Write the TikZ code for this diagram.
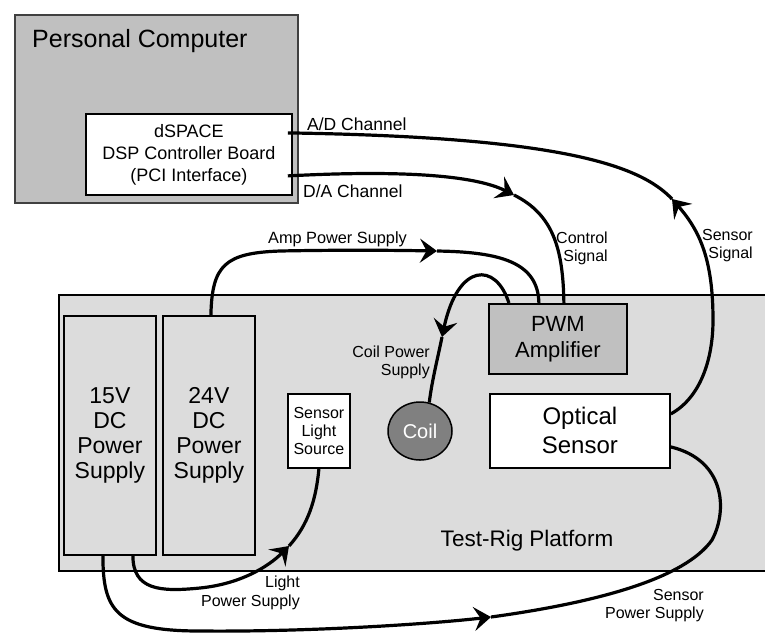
\documentclass[tikz,border=0pt]{standalone}
\usepackage{fontspec}
\setmainfont{Liberation Sans}
\usetikzlibrary{arrows.meta,shapes.geometric,calc}
\newcommand\myfs[2]{\fontsize{#1pt}{#2pt}\selectfont}
\definecolor{pcgray}{HTML}{C0C0C0}
\definecolor{riggray}{HTML}{DCDCDC}
\definecolor{coilgray}{HTML}{808080}
\definecolor{pcedge}{HTML}{404040}
\begin{document}
\begin{tikzpicture}[x=1pt,y=-1pt,
  box/.style={draw=black, line width=1.8pt, inner sep=0pt, anchor=north west, align=center},
  lbl/.style={inner sep=0pt, font=\myfs{16}{19}},
  conn/.style={line width=3.2pt, black},
  arr/.style={conn, -{Stealth[length=17pt 0 0,width=24pt 0 0,inset=6.5pt 0 0]}}]
\useasboundingbox (0,0) rectangle (765,633);
\fill[white] (0,0) rectangle (765,633);
% Personal computer
\node[box, fill=pcgray, draw=pcedge, minimum width=283pt, minimum height=188pt] (pc) at (14,14) {};
\node[lbl, anchor=base west, font=\myfs{25}{30}] (pct) at (32,47) {Personal Computer};
\node[box, fill=white, minimum width=206pt, minimum height=81pt, font=\myfs{18}{22}] (dsp) at (85,113) {dSPACE\\DSP Controller Board\\(PCI Interface)};
% Test rig platform
\node[box, fill=riggray, line width=1.5pt, minimum width=712pt, minimum height=276pt] (rigp) at (58,294) {};
\node[lbl, anchor=base, font=\myfs{22.5}{26}] (rigt) at (527,546) {Test-Rig Platform};
\node[box, fill=riggray, minimum width=92pt, minimum height=239pt, font=\myfs{23}{25}] (ps15) at (63,315) {15V\\DC\\Power\\Supply};
\node[box, fill=riggray, minimum width=92pt, minimum height=239pt, font=\myfs{23}{25}] (ps24) at (162,315) {24V\\DC\\Power\\Supply};
\node[box, fill=white, minimum width=62pt, minimum height=74pt, font=\myfs{16}{18}] (sls) at (287,393) {Sensor\\Light\\Source};
\node[draw, ellipse, fill=coilgray, line width=1.5pt, minimum width=64pt, minimum height=58pt, inner sep=0pt, text=white, font=\myfs{20}{24}] (coil) at (420,431) {Coil};
\node[box, fill=pcgray, minimum width=138pt, minimum height=70pt, font=\myfs{22}{26}] (pwm) at (488,303) {PWM\\Amplifier};
\node[box, fill=white, minimum width=180pt, minimum height=74pt, font=\myfs{24}{29}] (opt) at (489,393) {Optical\\Sensor};
% labels
\node[lbl, anchor=base west, font=\myfs{17.5}{20}] (adl) at (307,130) {A/D Channel};
\node[lbl, anchor=base west, font=\myfs{17.5}{20}] (dal) at (303,197) {D/A Channel};
\node[lbl, anchor=base west, font=\myfs{16.3}{19}] (ampl) at (268,243) {Amp Power Supply};
\node[lbl, anchor=base east] (ctl1) at (608,243) {Control};
\node[lbl, anchor=base east] (ctl2) at (608,261) {Signal};
\node[lbl, anchor=base east] (ss1) at (753,240) {Sensor};
\node[lbl, anchor=base east] (ss2) at (753,258) {Signal};
\node[lbl, anchor=base east] (cp1) at (430,357) {Coil Power};
\node[lbl, anchor=base east] (cp2) at (430,375) {Supply};
\node[lbl, anchor=base east] (lp1) at (300,587) {Light};
\node[lbl, anchor=base east] (lp2) at (300,606) {Power Supply};
\node[lbl, anchor=base east] (sp1) at (704,600) {Sensor};
\node[lbl, anchor=base east] (sp2) at (704,618) {Power Supply};
% arrow points
\coordinate (daA) at (514,195);
\coordinate (adA) at (672,199);
\coordinate (ampA) at (437,251);
\coordinate (coilA) at (442,337);
\coordinate (lightA) at (289,546);
\coordinate (spA) at (491,617);
% D/A -> control signal
\draw[arr] ([xshift=-5pt,yshift=-21.5pt]dsp.east) .. controls (400,170) and (474,175) .. (daA);
\draw[conn] (daA) .. controls (554,215) and (563,250) .. ([xshift=6pt]pwm.north);
% sensor signal -> A/D
\draw[arr] ([yshift=17pt]opt.east) .. controls (700,398) and (713,360) .. (713,320) .. controls (713,260) and (700,231) .. (adA);
\draw[conn] (adA) .. controls (640,165) and (560,137) .. ([xshift=-5pt,yshift=21.5pt]dsp.east);
% amp power supply
\draw[arr] ([xshift=2pt]ps24.north) .. controls (212,265) and (225,253) .. (280,251) .. controls (330,250) and (380,250) .. (ampA);
\draw[conn] (ampA) .. controls (500,252) and (538,262) .. ([xshift=-19pt]pwm.north);
% coil power supply
\draw[arr] ([xshift=-49pt]pwm.north) .. controls (496,262) and (458,262) .. (coilA);
\draw[conn] (coilA) .. controls (438,357) and (432,380) .. (coil.72);
% light power supply
\draw[arr] ([xshift=23pt]ps15.south) .. controls (133,590) and (160,592) .. (200,588) .. controls (240,584) and (268,567) .. (lightA);
\draw[conn] (lightA) .. controls (308,525) and (316,500) .. (sls.south);
% sensor power supply
\draw[arr] ([xshift=-7pt]ps15.south) .. controls (103,610) and (115,631) .. (200,631) .. controls (300,632) and (420,625) .. (spA);
\draw[conn] (spA) .. controls (600,602) and (685,578) .. (712,540) .. controls (728,510) and (725,460) .. ([yshift=-16pt]opt.east);
\end{tikzpicture}
\end{document}
